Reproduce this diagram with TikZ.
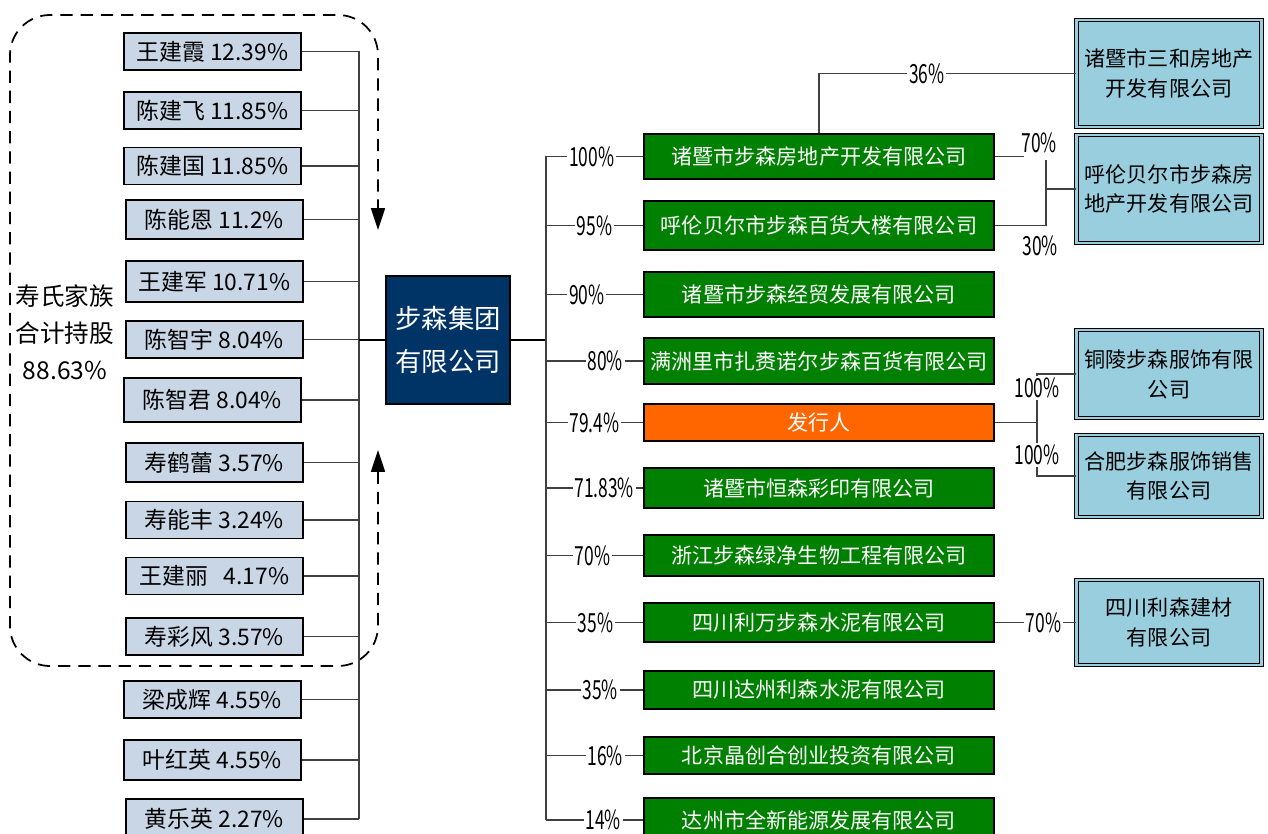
\documentclass[tikz,border=0pt]{standalone}
\usepackage{fontspec}
\setmainfont{Noto Sans CJK SC}
\usepackage{graphicx}
\usetikzlibrary{arrows.meta}

\definecolor{personblue}{RGB}{201,214,230}
\definecolor{firmgreen}{RGB}{0,128,0}
\definecolor{issuerorange}{RGB}{255,102,0}
\definecolor{groupnavy}{RGB}{0,51,102}
\definecolor{subblue}{RGB}{153,206,222}
\newcommand{\pc}[1]{\scalebox{0.66}[1]{#1\%}}

\tikzset{
  person/.style={draw=black, line width=1pt, fill=personblue, minimum width=3.54cm,
    minimum height=0.74cm, inner sep=0pt, font=\fontsize{13}{15}\selectfont},
  firm/.style={draw=black, line width=1.2pt, fill=firmgreen, text=white, minimum width=7cm,
    minimum height=0.8cm, inner sep=0pt, font=\fontsize{12}{14}\selectfont},
  sub/.style={draw=black, line width=0.7pt, double=subblue, double distance=1.2pt, fill=subblue,
    minimum width=3.7cm, align=center, inner sep=0pt, font=\fontsize{12}{17}\selectfont},
  group/.style={draw=black, line width=1pt, fill=groupnavy, text=white, minimum width=2.48cm,
    minimum height=2.56cm, align=center, font=\fontsize{15}{24}\selectfont},
  link/.style={draw=black!75, line width=0.6pt},
  pct/.style={fill=white, inner sep=1pt, font=\fontsize{15}{15}\selectfont},
}

\begin{document}
\begin{tikzpicture}[x=0.02cm, y=-0.02cm]
    \useasboundingbox (0,0) rectangle (1268,834);
    \coordinate (lbus) at (359,0);
    \coordinate (rbus) at (546,0);

    % family shareholders
    \draw[line width=1pt, dash pattern=on 7pt off 4.5pt, rounded corners=0.8cm,
      {Triangle[width=0.28cm,length=0.44cm]}-{Triangle[width=0.28cm,length=0.44cm]}]
      (378,450) -- (378,666) -- (10,666) -- (10,15) -- (378,15) -- (378,230);
    \node[align=center, font=\fontsize{14}{21}\selectfont] (fam) at (65,332) {寿氏家族\\合计持股\\88.63\%};

    \node[person] (p1) at (212.5,51.5) {王建霞 12.39\%};
    \node[person] (p2) at (212.5,110.5) {陈建飞 11.85\%};
    \node[person] (p3) at (212.5,166) {陈建国 11.85\%};
    \node[person, minimum height=0.78cm] (p4) at (214.5,219.5) {陈能恩 11.2\%};
    \node[person, minimum height=0.82cm] (p5) at (214.5,281.5) {王建军 10.71\%};
    \node[person] (p6) at (214.5,339.5) {陈智宇 8.04\%};
    \node[person, minimum height=0.88cm] (p7) at (212.5,400) {陈智君 8.04\%};
    \node[person, minimum height=0.78cm] (p8) at (214.5,462.5) {寿鹤蕾 3.57\%};
    \node[person] (p9) at (214.5,520) {寿能丰 3.24\%};
    \node[person] (p10) at (214.5,576) {王建丽\ \ \ 4.17\%};
    \node[person] (p11) at (214.5,636.5) {寿彩风 3.57\%};
    \node[person] (p12) at (212.5,699.5) {梁成辉 4.55\%};
    \node[person, minimum height=0.8cm] (p13) at (212.5,760) {叶红英 4.55\%};
    \node[person, minimum height=0.8cm] (p14) at (214.5,819) {黄乐英 2.27\%};

    \foreach \i in {1,...,14}
        \draw[link] (p\i.east) -- (p\i.east -| lbus);
    \draw[link] (p1.east -| lbus) -- (p14.east -| lbus);

    % group
    \node[group] (grp) at (448,340) {步森集团\\有限公司};
    \draw[line width=1.2pt] (grp.west -| lbus) -- (grp.west);
    \draw[line width=1.2pt] (grp.east) -- (grp.east -| rbus);

    % subsidiaries
    \node[firm, minimum height=0.9cm] (fA) at (819,156.5) {诸暨市步森房地产开发有限公司};
    \node[firm, minimum height=0.98cm] (fB) at (819,225.5) {呼伦贝尔市步森百货大楼有限公司};
    \node[firm, minimum height=0.9cm] (fC) at (819,294.5) {诸暨市步森经贸发展有限公司};
    \node[firm, minimum height=0.92cm] (fD) at (819,361) {满洲里市扎赉诺尔步森百货有限公司};
    \node[firm, fill=issuerorange, minimum height=0.74cm] (fE) at (819,422.5) {发行人};
    \node[firm] (fF) at (819,488) {诸暨市恒森彩印有限公司};
    \node[firm, minimum height=0.82cm] (fG) at (819,555.5) {浙江步森绿净生物工程有限公司};
    \node[firm, minimum height=0.78cm] (fH) at (819,622.5) {四川利万步森水泥有限公司};
    \node[firm, minimum height=0.76cm] (fI) at (819,690) {四川达州利森水泥有限公司};
    \node[firm, minimum height=0.74cm] (fJ) at (819,755.5) {北京晶创合创业投资有限公司};
    \node[firm, minimum height=0.88cm] (fK) at (819,820) {达州市全新能源发展有限公司};

    \draw[link] (fA.west -| rbus) -- (fK.west -| rbus);
    \foreach \f/\v/\p in {fA/100/0.47, fB/95/0.5, fC/90/0.42, fD/80/0.61, fE/79.4/0.5,
        fF/71.83/0.6, fG/70/0.48, fH/35/0.51, fI/35/0.56, fJ/16/0.61, fK/14/0.59}
        \draw[link] (\f.west -| rbus) -- node[pct, pos=\p] {\pc{\v}} (\f.west);

    % second level
    \node[sub, minimum height=2.14cm] (sR1) at (1169,73.5) {诸暨市三和房地产\\开发有限公司};
    \node[sub, minimum height=2.16cm] (sR2) at (1169,189) {呼伦贝尔市步森房\\地产开发有限公司};
    \node[sub, minimum height=1.76cm] (sR3) at (1169,374) {铜陵步森服饰有限\\公司};
    \node[sub, minimum height=1.64cm] (sR4) at (1169,476) {合肥步森服饰销售\\有限公司};
    \node[sub, minimum height=1.7cm] (sR5) at (1169,622.5) {四川利森建材\\有限公司};

    \draw[link] (fA.north) |- node[pct, pos=0.71] {\pc{36}} (sR1.west);
    \draw[link] (fA.east) -- ++(29,0);
    \node[pct] (l70) at (1039,143) {\pc{70}};
    \coordinate (jB) at (1046,189);
    \draw[link] (fB.east) -| (jB) -- (sR2.west);
    \draw[link] (jB) -- ++(0,-29);
    \node[pct] (l30) at (1040,246) {\pc{30}};

    \coordinate (jE) at (1037,422.5);
    \draw[link] (fE.east) -- (jE);
    \draw[link] (jE) |- (sR3.west);
    \draw[link] (jE) |- (sR4.west);
    \node[pct] (l100a) at (1037,388) {\pc{100}};
    \node[pct] (l100b) at (1037,455) {\pc{100}};

    \draw[link] (fH.east) -- node[pct, pos=0.6] {\pc{70}} (sR5.west);
\end{tikzpicture}
\end{document}
